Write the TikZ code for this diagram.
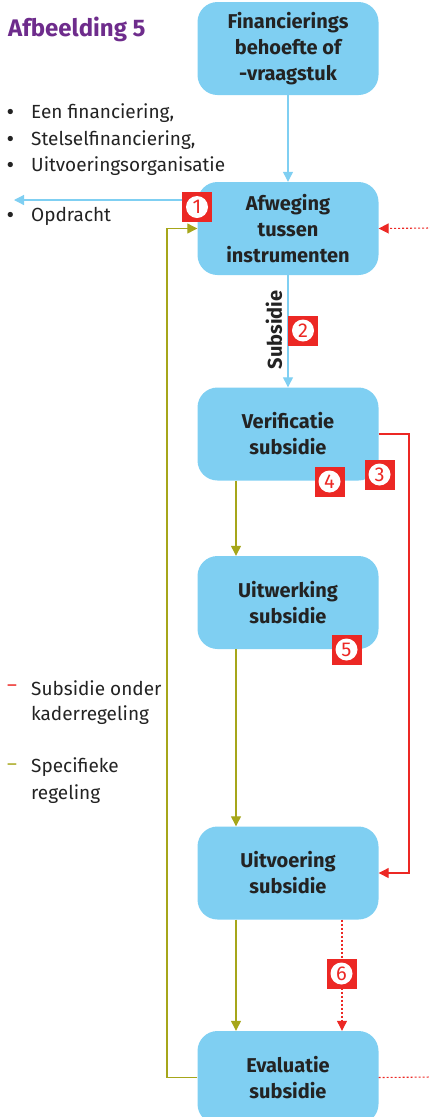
\documentclass[tikz,border=0pt]{standalone}
\usepackage{fontspec}
\setmainfont{Fira Sans}
\usetikzlibrary{arrows.meta}
\definecolor{boxblue}{RGB}{127,207,242}
\definecolor{lineblue}{RGB}{127,207,242}
\definecolor{olivel}{RGB}{166,166,26}
\definecolor{bred}{RGB}{236,40,36}
\definecolor{purp}{RGB}{110,44,140}
\definecolor{txt}{RGB}{35,35,35}
\begin{document}
\begin{tikzpicture}[x=1pt,y=-1pt,
  box/.style={fill=boxblue, rounded corners=20pt, minimum width=181pt, minimum height=93pt, align=center, font=\fontsize{20}{26}\selectfont\bfseries, text=txt, inner sep=0pt},
  bluearrow/.style={draw=lineblue, line width=1.2pt, -{Triangle[width=10pt,length=10pt]}},
  olivearrow/.style={draw=olivel, line width=1.2pt, -{Triangle[width=10pt,length=10pt]}},
  redarrow/.style={draw=bred, line width=1.2pt, -{Triangle[width=10pt,length=10pt]}},
  reddots/.style={draw=bred, line width=1.1pt, dash pattern=on 2pt off 2pt},
  badgesq/.style={fill=bred, minimum size=30pt, inner sep=0pt},
  badgeci/.style={fill=white, circle, minimum size=22pt, inner sep=0pt, text=bred, font=\fontsize{20}{20}\selectfont},
  plain/.style={anchor=west, inner sep=0pt, text=txt, font=\fontsize{19}{19}\selectfont},
  dot/.style={anchor=west, inner sep=0pt, text=txt, font=\fontsize{19}{19}\selectfont\bfseries},
]
\useasboundingbox (0,0) rectangle (430,1117);
\clip (0,0) rectangle (430,1117);

% title
\node[anchor=west, inner sep=0pt, text=purp, font=\fontsize{24}{24}\selectfont\bfseries] (title) at (8,29) {Afbeelding 5};

% boxes
\node[box] (b1) at (288,48.5) {Financierings\\behoefte of\\-vraagstuk};
\node[box] (b2) at (288,228.5) {Afweging\\tussen\\instrumenten};
\node[box] (b3) at (288,434) {Verificatie\\subsidie};
\node[box] (b4) at (288,602.5) {Uitwerking\\subsidie};
\node[box] (b5) at (288,873) {Uitvoering\\subsidie};
\node[box] (b6) at (288,1077.5) {Evaluatie\\subsidie};

% helper coordinates
\coordinate (gx) at (236,0);
\coordinate (rx) at (342,0);
\coordinate (leftend) at (14,200);
\coordinate (gl) at (167,0);
\coordinate (rr) at (409,0);
\coordinate (redin) at (432,228);
\coordinate (redout) at (432,1077);

% blue arrows
\draw[bluearrow] (b1.south) -- (b2.north);
\draw[bluearrow] (b2.west |- leftend) -- (leftend);
\draw[bluearrow] (b2.south) -- (b3.north);

% olive flow
\draw[olivearrow] (b3.south -| gx) -- (b4.north -| gx);
\draw[olivearrow] (b4.south -| gx) -- (b5.north -| gx);
\draw[olivearrow] (b5.south -| gx) -- (b6.north -| gx);
\draw[olivearrow] (b6.west) -- (b6.west -| gl) -- (gl |- b2.west) -- (b2.west);

% red solid
\draw[redarrow] (b3.east) -- (b3.east -| rr) -- (rr |- b5.east) -- (b5.east);

% red dotted
\draw[reddots, -{Triangle[width=10pt,length=10pt]}] (redin) -- (b2.east);
\draw[reddots, -{Triangle[width=10pt,length=10pt]}] (b5.south -| rx) -- (b6.north -| rx);
\draw[reddots] (b6.east) -- (redout);

% Subsidie label
\node[rotate=90, inner sep=0pt, text=txt, font=\fontsize{20}{20}\selectfont\bfseries] (sublab) at (274,330) {Subsidie};

% badges
\node[badgesq] (n1) at (197,207) {}; \node[badgeci] (n1c) at (n1) {1};
\node[badgesq] (n2) at (303,330.5) {}; \node[badgeci] (n2c) at (n2) {2};
\node[badgesq] (n3) at (379.5,474.5) {}; \node[badgeci] (n3c) at (n3) {3};
\node[badgesq] (n4) at (329.5,481.5) {}; \node[badgeci] (n4c) at (n4) {4};
\node[badgesq] (n5) at (346.5,649.5) {}; \node[badgeci] (n5c) at (n5) {5};
\node[badgesq] (n6) at (341.5,973.5) {}; \node[badgeci] (n6c) at (n6) {6};

% bullet list
\node[plain] (l1) at (31,113) {Een financiering,};
\node[plain] (l2) at (31,140) {Stelselfinanciering,};
\node[plain] (l3) at (31,166) {Uitvoeringsorganisatie};
\node[plain] (l4) at (31,216) {Opdracht};
\node[dot] (d1) at (7,114) {•};
\node[dot] (d2) at (7,141) {•};
\node[dot] (d3) at (7,167) {•};
\node[dot] (d4) at (7,217) {•};

% legend
\node[plain, text=bred] (lg1) at (7,688) {–};
\node[plain] (lt1) at (31,688) {Subsidie onder};
\node[plain] (lt2) at (31,715) {kaderregeling};
\node[plain, text=olivel] (lg2) at (7,767) {–};
\node[plain] (lt3) at (31,767) {Specifieke};
\node[plain] (lt4) at (31,794) {regeling};
\end{tikzpicture}
\end{document}
